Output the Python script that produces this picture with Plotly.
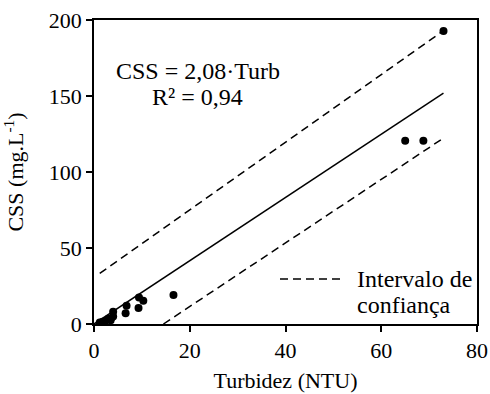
import numpy as np
import plotly.graph_objects as go

# Observed data
turb = [1.2, 1.8, 2.4, 3.0, 3.5, 4.0, 4.0, 6.6, 6.8, 9.3, 9.4, 10.3, 16.6, 65.0, 68.8, 73.0]
css = [1.0, 1.5, 2.0, 3.5, 2.5, 5.0, 8.0, 7.0, 12.0, 10.5, 17.5, 15.3, 19.0, 120.6, 120.6, 192.8]

# Regression
slope = 2.08
fit_x = [0.0, 73.0]
fit_y = [slope * v for v in fit_x]

# Confidence interval lines
upper_x = [1.2, 73.0]
upper_y = [33.3, 193.0]
lower_x = [14.5, 72.7]
lower_y = [0.0, 121.7]

x_ticks = [0, 20, 40, 60, 80]
y_ticks = [0, 50, 100, 150, 200]

eq_lines = ["CSS = 2,08·Turb", "R² = 0,94"]
legend_lines = ["Intervalo de", "confiança"]

FONT = "Liberation Serif"
DASH = "8px,5px"

fig = go.Figure()
fig.add_trace(go.Scatter(x=upper_x, y=upper_y, mode="lines",
                         line=dict(color="black", width=1.5, dash=DASH), showlegend=False))
fig.add_trace(go.Scatter(x=lower_x, y=lower_y, mode="lines",
                         line=dict(color="black", width=1.5, dash=DASH), showlegend=False))
fig.add_trace(go.Scatter(x=fit_x, y=fit_y, mode="lines",
                         line=dict(color="black", width=1.5), showlegend=False))
fig.add_trace(go.Scatter(x=turb, y=css, mode="markers",
                         marker=dict(color="black", size=8), showlegend=False))

axis_common = dict(showgrid=False, zeroline=False, showline=True, linecolor="black",
                   linewidth=1.5, mirror=True, ticks="outside", ticklen=6, tickwidth=1.5,
                   tickcolor="black", automargin=False,
                   tickfont=dict(family=FONT, size=22, color="black"))

fig.update_xaxes(range=[0, 80], tickvals=x_ticks,
                 title=dict(text="Turbidez (NTU)", font=dict(family=FONT, size=22, color="black"),
                            standoff=10),
                 **axis_common)
fig.update_yaxes(range=[0, 200], tickvals=y_ticks,
                 title=dict(text="CSS (mg.L<sup>-1</sup>)", font=dict(family=FONT, size=22, color="black"),
                            standoff=20),
                 **axis_common)

# Equation annotation (two lines)
for txt, yv in zip(eq_lines, [166.4, 149.3]):
    fig.add_annotation(x=21.7, y=yv, xref="x", yref="y", showarrow=False,
                       xanchor="center", yanchor="middle", text=txt,
                       font=dict(family=FONT, size=24, color="black"))

# Legend (drawn manually)
fig.add_shape(type="line", xref="paper", yref="paper",
              x0=(280 - 94) / 383, x1=(342 - 94) / 383,
              y0=(324 - 279) / 304, y1=(324 - 279) / 304,
              line=dict(color="black", width=1.5, dash=DASH))
for txt, py in zip(legend_lines, [279, 305]):
    fig.add_annotation(x=(355 - 94) / 383, y=(324 - py) / 304, xref="paper", yref="paper",
                       xanchor="left", yanchor="middle", showarrow=False, text=txt,
                       font=dict(family=FONT, size=24, color="black"))

fig.update_layout(width=490, height=394, margin=dict(l=94, r=13, t=20, b=70),
                  paper_bgcolor="white", plot_bgcolor="white",
                  font=dict(family=FONT, color="black"))

fig.write_html("out.html")
